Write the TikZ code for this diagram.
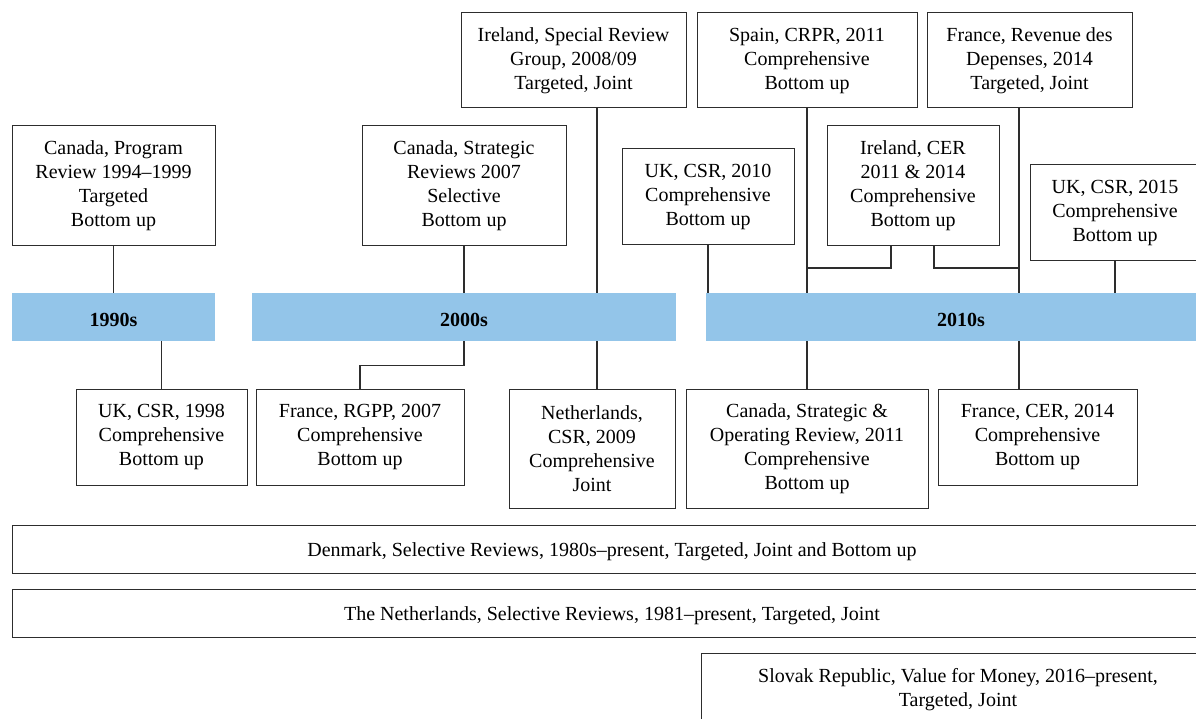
\documentclass[tikz,border=0pt]{standalone}
\usepackage{fontspec}
\setmainfont{Liberation Serif}
\usepackage{xcolor}
\usetikzlibrary{positioning}
\definecolor{barblue}{RGB}{147,197,233}
\definecolor{inkgray}{RGB}{45,45,45}

\begin{document}
\begin{tikzpicture}[x=1pt, y=1pt,
    box/.style={draw=inkgray, line width=1pt, align=center, inner sep=0pt,
        font=\fontsize{20}{24}\selectfont,
        execute at begin node={\rule{0pt}{20pt}}},
    decade/.style={fill=barblue, inner sep=0pt, minimum height=48pt,
        font=\fontsize{20}{24}\selectfont\bfseries,
        execute at begin node={\rule{0pt}{19pt}}},
    link/.style={draw=inkgray, line width=1.4pt}]
    \useasboundingbox (0,0) rectangle (1196,-719);
    \clip (0,0) rectangle (1196,-719);

    % Decades
    \node[decade, minimum width=203pt] (b90) at (113.5,-317) {1990s};
    \node[decade, minimum width=424pt] (b00) at (464,-317) {2000s};
    \node[decade, minimum width=510pt] (b10) at (961,-317) {2010s};

    % Reviews above the line
    \node[box, minimum width=203pt, minimum height=120pt] (can94) at (113.5,-186)
        {Canada, Program\\Review 1994--1999\\Targeted\\Bottom up};
    \node[box, minimum width=204pt, minimum height=120pt] (can07) at (464,-186)
        {Canada, Strategic\\Reviews 2007\\Selective\\Bottom up};
    \node[box, minimum width=225pt, minimum height=95pt] (ire08) at (573.5,-60.5)
        {Ireland, Special Review\\Group, 2008/09\\Targeted, Joint};
    \node[box, minimum width=172pt, minimum height=96pt] (uk10) at (708,-197)
        {UK, CSR, 2010\\Comprehensive\\Bottom up};
    \node[box, minimum width=220pt, minimum height=95pt] (spain) at (807,-60.5)
        {Spain, CRPR, 2011\\Comprehensive\\Bottom up};
    \node[box, minimum width=172pt, minimum height=120pt] (iecer) at (913,-186)
        {Ireland, CER\\2011 \& 2014\\Comprehensive\\Bottom up};
    \node[box, minimum width=205pt, minimum height=95pt] (frrev) at (1029.5,-60.5)
        {France, Revenue des\\Depenses, 2014\\Targeted, Joint};
    \node[box, minimum width=170pt, minimum height=96pt] (uk15) at (1115,-213)
        {UK, CSR, 2015\\Comprehensive\\Bottom up};

    % Reviews below the line
    \node[box, minimum width=171pt, minimum height=96pt] (uk98) at (161.5,-437)
        {UK, CSR, 1998\\Comprehensive\\Bottom up};
    \node[box, minimum width=208pt, minimum height=96pt] (rgpp) at (360,-437)
        {France, RGPP, 2007\\Comprehensive\\Bottom up};
    \node[box, minimum width=166pt, minimum height=119pt] (nl09) at (592,-448.5)
        {Netherlands,\\CSR, 2009\\Comprehensive\\Joint};
    \node[box, minimum width=242pt, minimum height=119pt] (cso) at (807,-448.5)
        {Canada, Strategic \&\\Operating Review, 2011\\Comprehensive\\Bottom up};
    \node[box, minimum width=199pt, minimum height=96pt] (frcer) at (1037.5,-437)
        {France, CER, 2014\\Comprehensive\\Bottom up};

    % Ongoing programmes
    \node[box, minimum width=1200pt, minimum height=48pt] (dk) at (612,-549)
        {Denmark, Selective Reviews, 1980s--present, Targeted, Joint and Bottom up};
    \node[box, minimum width=1200pt, minimum height=48pt] (nlsel) at (612,-613)
        {The Netherlands, Selective Reviews, 1981--present, Targeted, Joint};
    \node[box, minimum width=514pt, minimum height=74pt] (sk) at (958,-690)
        {Slovak Republic, Value for Money, 2016--present,\\Targeted, Joint};

    % Connectors
    \coordinate (x08) at (597,0);
    \coordinate (x14) at (1019,0);
    \coordinate (jl) at (807,-268);
    \coordinate (jr) at (1019,-268);
    \draw[link] (can94.south) -- (can94.south |- b90.north);
    \draw[link] (uk98.north |- b90.south) -- (uk98.north);
    \draw[link] (can07.south) -- (can07.south |- b00.north);
    \draw[link] (ire08.south -| x08) -- (b00.north -| x08);
    \draw[link] (b00.south -| x08) -- (nl09.north -| x08);
    \draw[link] (can07.south |- b00.south) -- ++(0,-24) -| (rgpp.north);
    \draw[link] (uk10.south) -- (uk10.south |- b10.north);
    \draw[link] (spain.south) -- (spain.south |- b10.north);
    \draw[link] (cso.north |- b10.south) -- (cso.north);
    \draw[link] (frrev.south -| x14) -- (b10.north -| x14);
    \draw[link] (b10.south -| x14) -- (frcer.north -| x14);
    \draw[link] ([xshift=-22pt]iecer.south) |- (jl);
    \draw[link] ([xshift=21pt]iecer.south) |- (jr);
    \draw[link] (uk15.south) -- (uk15.south |- b10.north);
\end{tikzpicture}
\end{document}
